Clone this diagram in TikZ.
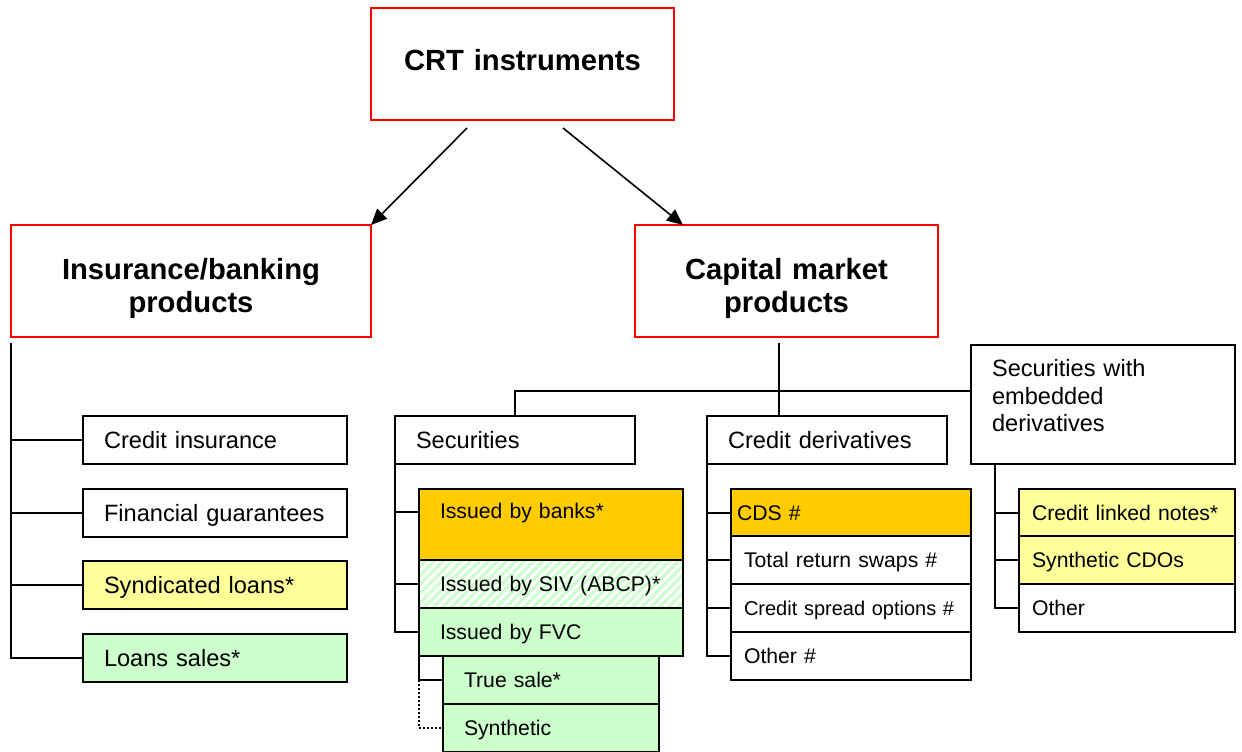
\documentclass[tikz,border=0pt]{standalone}
\usepackage{fontspec}
\setmainfont{Liberation Sans}
\usetikzlibrary{arrows.meta,positioning,patterns.meta}

\definecolor{gold}{HTML}{FFCC00}
\definecolor{pale}{HTML}{FFFF99}
\definecolor{mint}{HTML}{CCFFCC}

\begin{document}
\begin{tikzpicture}[
  x=0.5pt, y=-0.5pt, >={Triangle[length=8pt,width=7pt]},
  head/.style={draw=red, line width=1.2pt, outer sep=0pt, inner sep=0pt, align=center,
               font=\bfseries\fontsize{14.6}{16.5}\selectfont, text width=140pt,
               minimum height=56pt, text height=10.5pt},
  box/.style={draw, line width=1pt, outer sep=0pt, inner ysep=0pt, anchor=north west,
              align=left, minimum height=24pt, text height=8.5pt, text depth=0pt},
  wd/.style 2 args={minimum width=#1*0.5pt, inner xsep=#2*0.5pt, text width=(#1-2*#2)*0.5pt},
  cat/.style={box, wd={264}{21}, font=\fontsize{11.8}{13.75}\selectfont},
  sub/.style={box, wd={264}{21}, font=\fontsize{10.6}{12.7}\selectfont, text height=7.5pt},
  goldbox/.style={fill=gold}, palebox/.style={fill=pale}, mintbox/.style={fill=mint},
  hatch/.style={pattern={Lines[angle=45,distance=3.2pt,line width=1.6pt]}, pattern color=mint},
  link/.style={line width=1pt},
  arr/.style={->, line width=0.8pt}
]
\useasboundingbox (0,0) rectangle (1242,751);

% top level
\node[head, minimum width=151.5pt, text depth=4pt] (crt) at (522.5,64) {CRT instruments};
\node[head, minimum width=180pt, text depth=12pt] (ins) at (191,281) {Insurance/banking\\products};
\node[head, minimum width=151.5pt, text depth=12pt] (cap) at (786.5,281) {Capital market\\products};

% insurance/banking side
\node[cat] (cins) at (83,416) {Credit insurance};
\node[cat, below=12.25pt of cins] (fgua) {Financial guarantees};
\node[cat, palebox, below=12.25pt of fgua] (synd) {Syndicated loans*};
\node[cat, mintbox, below=12.25pt of synd] (lsal) {Loans sales*};

% capital market side
\node[cat, wd={240}{21}] (sec) at (395,416) {Securities};
\node[cat, wd={240}{21}] (cd) at (707,416) {Credit derivatives};
\node[cat, minimum height=59.5pt, text depth=36.3pt] (swed) at (971,345) {Securities with\\embedded\\derivatives};

\node[sub, goldbox, minimum height=35.5pt, text depth=13.5pt] (bank) at (419,489) {Issued by banks*};
\node[sub, hatch, below=0pt of bank] (siv) {Issued by SIV (ABCP)*};
\node[sub, mintbox, below=0pt of siv] (fvc) {Issued by FVC};
\node[sub, mintbox, wd={216}{21}] (ts) at (443,656) {True sale*};
\node[sub, mintbox, wd={216}{21}, below=0pt of ts] (syn) {Synthetic};

\node[sub, goldbox, wd={240}{6}, minimum height=23.5pt] (cds) at (731,489) {CDS \#};
\node[sub, wd={240}{13}, below=0pt of cds] (trs) {Total return swaps \#};
\node[sub, wd={240}{13}, below=0pt of trs, font=\fontsize{10}{12}\selectfont] (cso) {Credit spread options \#};
\node[sub, wd={240}{13}, below=0pt of cso] (oth) {Other \#};

\node[sub, palebox, wd={216}{13}, minimum height=23.5pt] (cln) at (1019,489) {Credit linked notes*};
\node[sub, palebox, wd={216}{13}, below=0pt of cln] (sco) {Synthetic CDOs};
\node[sub, wd={216}{13}, below=0pt of sco] (oth2) {Other};

% connectors
\draw[arr] ([xshift=-27.75pt,yshift=-4pt]crt.south) -- (ins.north east);
\draw[arr] ([xshift=20.25pt,yshift=-4pt]crt.south) -- ([xshift=24pt]cap.north west);
\foreach \n in {cins,fgua,synd,lsal}
  \draw[link] ([yshift=-3pt]ins.south west) |- (\n.west);

\coordinate (hub) at (779,391);
\draw[link] ([yshift=-3pt]hub |- cap.south) -- (hub |- cd.north);
\draw[link] (sec.north) |- (hub) -- (hub -| swed.west);

\draw[link] (sec.south west) |- ([yshift=6.25pt]bank.west);
\foreach \n in {siv,fvc}
  \draw[link] (sec.south west) |- (\n.west);
\draw[link] (fvc.south west) |- (ts.west);
\draw[link, densely dotted, line width=0.6pt] (ts.west -| fvc.south west) |- (syn.west);

\foreach \n in {cds,trs,cso,oth}
  \draw[link] (cd.south west) |- (\n.west);
\foreach \n in {cln,sco,oth2}
  \draw[link] ([xshift=12pt]swed.south west) |- (\n.west);
\end{tikzpicture}
\end{document}
